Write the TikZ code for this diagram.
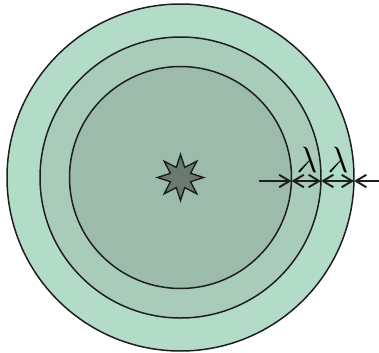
\documentclass[tikz,border=0pt]{standalone}
\usetikzlibrary{arrows.meta,shapes.geometric}
\definecolor{outerc}{RGB}{178,220,200}
\definecolor{middlec}{RGB}{169,203,186}
\definecolor{innerc}{RGB}{157,187,171}
\definecolor{starc}{RGB}{107,122,112}
\definecolor{inkc}{RGB}{30,30,30}

\begin{document}
\begin{tikzpicture}[x=0.02cm,y=-0.02cm,
  ring/.style={draw=inkc,line width=0.85pt},
  dim/.style={draw=inkc,line width=0.9pt,
    arrows={-}, >={Straight Barb[length=0.21cm,width=0.25cm,line width=1.1pt]}},
  lab/.style={inner sep=1pt,font=\huge}]
\useasboundingbox (0,0) rectangle (379,352);
% ---------- 三层圆环 ----------
\coordinate (c) at (180.5,177.5);
\draw[ring,fill=outerc] (c) circle[radius=173.5];
\draw[ring,fill=middlec] (c) circle[radius=140.5];
\draw[ring,fill=innerc] (c) circle[radius=111];
% 中心源
\node[star,star points=8,star point ratio=2.1,minimum size=0.92cm,inner sep=0pt,
  draw=inkc,line width=0.8pt,fill=starc] (src) at (c) {};
% ---------- 间隔标注 ----------
\coordinate (b0) at (259,181);
\coordinate (b1) at (291.5,181);
\coordinate (b2) at (321,181);
\coordinate (b3) at (354,181);
\coordinate (b4) at (379,181);
\draw[dim,->] (b0) -- (b1);
\draw[dim,<->] (b1) -- (b2);
\draw[dim,<->] (b2) -- (b3);
\draw[dim,<-] (b3) -- (b4);
\node[lab] (lam1) at (307,160) {$\lambda$};
\node[lab] (lam2) at (338,160) {$\lambda$};
\end{tikzpicture}
\end{document}
